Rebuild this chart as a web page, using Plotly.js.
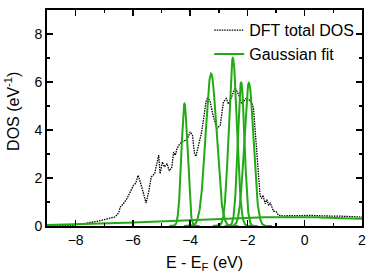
<!DOCTYPE html>
<html>
<head>
<meta charset="utf-8">
<script src="https://cdn.plot.ly/plotly-3.0.1.min.js"></script>
<style>html,body{margin:0;padding:0;background:#fff;}#chart{width:371px;height:273px;}</style>
</head>
<body>
<div id="chart"></div>
<script>
// DFT total DOS
var dftEnergy = [-9, -8.2, -7.8, -7.5, -7.37, -7.08, -6.79, -6.62, -6.5, -6.44, -6.33, -6.21, -6.09, -5.98, -5.9, -5.82, -5.74, -5.63, -5.54, -5.45, -5.36, -5.24, -5.16, -5.10, -5.05, -4.97, -4.90, -4.81, -4.73, -4.64, -4.58, -4.52, -4.46, -4.38, -4.29, -4.11, -4.0, -3.92, -3.85, -3.80, -3.71, -3.61, -3.53, -3.45, -3.38, -3.30, -3.2, -3.07, -2.95, -2.84, -2.74, -2.66, -2.58, -2.5, -2.43, -2.37, -2.31, -2.2, -2.14, -2.02, -1.9, -1.84, -1.79, -1.73, -1.67, -1.61, -1.56, -1.5, -1.46, -1.38, -1.32, -1.26, -1.2, -1.09, -1.0, -0.92, -0.75, -0.5, -0.2, 0, 0.3, 0.6, 0.9, 1.2, 1.5, 2];
var dftDos = [0, 0.02, 0.08, 0.13, 0.17, 0.24, 0.31, 0.38, 0.54, 0.79, 0.93, 1.14, 1.42, 1.70, 1.78, 2.11, 1.83, 1.35, 0.96, 1.42, 2.04, 2.18, 2.6, 2.95, 2.18, 2.67, 2.46, 2.6, 2.3, 2.45, 3.08, 2.95, 3.22, 3.4, 3.5, 3.6, 3.92, 3.78, 3.02, 2.9, 3.36, 3.85, 4.47, 5.17, 5.38, 5.17, 4.6, 4.06, 4.2, 5.17, 5.31, 5.08, 5.3, 5.6, 5.76, 5.62, 5.48, 5.1, 5.17, 5.35, 5.2, 5.1, 4.92, 3.99, 2.74, 1.77, 1.28, 1.14, 1.28, 0.93, 1.1, 0.86, 0.95, 0.62, 0.6, 0.45, 0.42, 0.43, 0.44, 0.42, 0.44, 0.42, 0.43, 0.41, 0.4, 0.37];

// Gaussian fit components (centre, height, sigma)
var peakCenters = [-4.20, -3.27, -2.51, -2.22, -1.95, -0.5];
var peakHeights = [5.10, 6.35, 7.00, 6.00, 5.96, 0.37];
var peakSigmas  = [0.105, 0.19, 0.14, 0.115, 0.16, 4.0];

var fitX = [], fitY = [];
for (var k = 0; k < peakCenters.length; k++) {
  var c = peakCenters[k], h = peakHeights[k], s = peakSigmas[k];
  var lo = Math.max(-9, c - 5 * s), hi = Math.min(2, c + 5 * s);
  var n = 200;
  for (var i = 0; i <= n; i++) {
    var x = lo + (hi - lo) * i / n;
    fitX.push(x);
    fitY.push(h * Math.exp(-Math.pow(x - c, 2) / (2 * s * s)));
  }
  fitX.push(null); fitY.push(null);
}

var font = 'Liberation Sans, Arial, sans-serif';
var traces = [
  {x: dftEnergy, y: dftDos, type: 'scatter', mode: 'lines', name: 'DFT total DOS',
   line: {color: '#000', width: 1.3, dash: '1.5px,1px'}},
  {x: fitX, y: fitY, type: 'scatter', mode: 'lines', name: 'Gaussian fit',
   line: {color: 'rgb(34,170,20)', width: 2}, connectgaps: false}
];
var axisCommon = {
  showline: true, linecolor: '#000', linewidth: 2, mirror: 'ticks',
  ticks: 'inside', ticklen: 6, tickwidth: 1.5, tickcolor: '#000',
  showgrid: false, zeroline: false,
  tickfont: {family: font, size: 14, color: '#000'}
};
var layout = {
  width: 371, height: 273,
  margin: {l: 46.7, r: 9.2, t: 10, b: 47.3},
  paper_bgcolor: '#fff', plot_bgcolor: '#fff',
  showlegend: true,
  legend: {x: 0.515, y: 0.985, xanchor: 'left', yanchor: 'top', bgcolor: 'rgba(0,0,0,0)',
           font: {family: font, size: 16, color: '#000'}, tracegroupgap: 0},
  xaxis: Object.assign({}, axisCommon, {
    range: [-9, 2], tickvals: [-8, -6, -4, -2, 0, 2],
    minor: {dtick: 1, tick0: -9, ticks: 'inside', ticklen: 3, tickcolor: '#000', tickwidth: 1.5},
    title: {text: 'E - E<sub>F</sub> (eV)', font: {family: font, size: 16, color: '#000'}, standoff: 10}
  }),
  yaxis: Object.assign({}, axisCommon, {
    range: [0, 9], tickvals: [0, 2, 4, 6, 8],
    minor: {dtick: 1, tick0: 0, ticks: 'inside', ticklen: 3, tickcolor: '#000', tickwidth: 1.5}
  }),
  annotations: [{
    text: 'DOS (eV<sup>-1</sup>)', xref: 'paper', yref: 'paper', x: -0.113, y: 0.53,
    xanchor: 'center', yanchor: 'middle', textangle: -90, showarrow: false,
    font: {family: font, size: 16, color: '#000'}
  }]
};
Plotly.newPlot('chart', traces, layout, {displayModeBar: false, staticPlot: true});
</script>
</body>
</html>
